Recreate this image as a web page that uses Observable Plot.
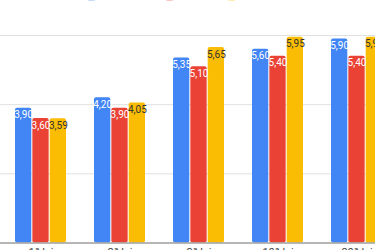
<!DOCTYPE html>
<html>
<head>
<meta charset="utf-8">
<script src="https://cdn.jsdelivr.net/npm/d3@7"></script>
<script src="https://cdn.jsdelivr.net/npm/@observablehq/plot@0.6"></script>
<style>
  html, body { margin: 0; padding: 0; background: #fff; overflow: hidden; }
  #wrap { position: relative; width: 375px; height: 250px; overflow: hidden; font-family: Roboto, Arial, sans-serif; }
  #legend { position: absolute; left: 0; top: -8px; width: 375px; height: 9px; }
  .sw { position: absolute; top: 0; width: 9px; height: 9px; border-radius: 3px; opacity: 0.3; }
</style>
</head>
<body>
<div id="wrap"><div id="legend"></div><div id="chart"></div></div>
<script>
const categories = ["1ª lei", "2ª lei", "3ª lei", "10ª lei", "20ª lei"];
const seriesNames = ["Série 1", "Série 2", "Série 3"];
const blueValues = [3.90, 4.20, 5.35, 5.60, 5.90];
const redValues = [3.60, 3.90, 5.10, 5.40, 5.40];
const yellowValues = [3.59, 4.05, 5.65, 5.95, 5.95];
const yTicks = [0, 2, 4, 6];
const colors = ["#4285F4", "#EA4335", "#FBBC04"];
const labelColors = ["#ffffff", "#ffffff", "#333333"];

const seriesValues = [blueValues, redValues, yellowValues];
const rows = seriesValues.map((vals, s) =>
  categories.map((c, i) => ({category: c, series: seriesNames[s], value: vals[i]}))
);

const fmt = v => v.toFixed(2).replace(".", ",");

// legend swatches (cut off at the top edge in the reference)
const legendX = [87, 165, 227];
const legend = document.getElementById("legend");
seriesNames.forEach((n, i) => {
  const sw = document.createElement("div");
  sw.className = "sw";
  sw.title = n;
  sw.style.left = legendX[i] + "px";
  sw.style.background = colors[i];
  legend.appendChild(sw);
});

const bw = 51, barW = 16.3;
const insets = [
  {insetLeft: 0, insetRight: bw - barW},
  {insetLeft: (bw - barW) / 2, insetRight: (bw - barW) / 2},
  {insetLeft: bw - barW, insetRight: 0}
];
const textDx = [-(bw - barW) / 2, 0, (bw - barW) / 2];

const step = 79, pad = 0.354;
const firstCenter = 41;
const start = firstCenter - step * (0.5 + pad / 2);
const stop = start + step * (categories.length + pad);

const marks = [
  Plot.ruleY(yTicks.filter(d => d > 0), {stroke: "#e0e0e0", strokeWidth: 1}),
];
rows.forEach((data, s) => {
  marks.push(Plot.barY(data, {
    x: "category", y: "value", fill: colors[s], rx: 2,
    ...insets[s]
  }));
});
rows.forEach((data, s) => {
  marks.push(Plot.text(data, {
    x: "category", y: "value", text: d => fmt(d.value),
    dx: textDx[s], dy: 3, lineAnchor: "top", fill: labelColors[s],
    fontSize: 10, fontFamily: "Roboto, Arial, sans-serif"
  }));
});
marks.push(Plot.ruleY([0], {stroke: "#9e9e9e", strokeWidth: 1.5}));
marks.push(Plot.axisX({tickSize: 0, tickPadding: 5, fontSize: 11, fill: "#444", label: null}));

const chart = Plot.plot({
  width: 375,
  height: 250,
  marginTop: 35,
  marginBottom: 7.5,
  marginLeft: 0,
  marginRight: 0,
  style: {background: "#fff", fontFamily: "Roboto, Arial, sans-serif"},
  x: {domain: categories, range: [start, stop], padding: pad, label: null},
  y: {domain: [0, 6], axis: null},
  marks
});
document.getElementById("chart").appendChild(chart);
</script>
</body>
</html>
